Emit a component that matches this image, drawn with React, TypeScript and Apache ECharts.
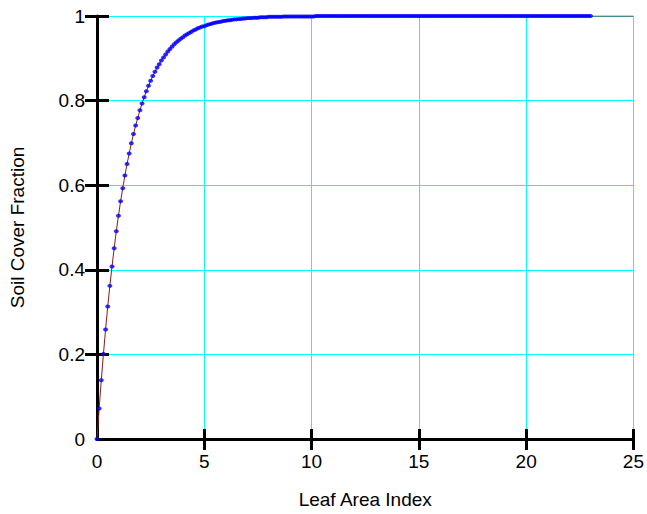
import React, { useEffect, useRef } from "react";
import * as echarts from "echarts";

// Leaf Area Index (x) sampled by the model, and the simulated soil cover fraction (y)
const LAI = [
  0, 0.1, 0.2, 0.3, 0.4, 0.5, 0.6, 0.7, 0.8, 0.9,
  1, 1.1, 1.2, 1.3, 1.4, 1.5, 1.6, 1.7, 1.8, 1.9,
  2, 2.1, 2.2, 2.3, 2.4, 2.5, 2.6, 2.7, 2.8, 2.9,
  3, 3.1, 3.2, 3.3, 3.4, 3.5, 3.6, 3.7, 3.8, 3.9,
  4, 4.1, 4.2, 4.3, 4.4, 4.5, 4.6, 4.7, 4.8, 4.9,
  5, 5.1, 5.2, 5.3, 5.4, 5.5, 5.6, 5.7, 5.8, 5.9,
  6, 6.1, 6.2, 6.3, 6.4, 6.5, 6.6, 6.7, 6.8, 6.9,
  7, 7.1, 7.2, 7.3, 7.4, 7.5, 7.6, 7.7, 7.8, 7.9,
  8, 8.1, 8.2, 8.3, 8.4, 8.5, 8.6, 8.7, 8.8, 8.9,
  9, 9.1, 9.2, 9.3, 9.4, 9.5, 9.6, 9.7, 9.8, 9.9,
  10, 10.1, 10.2, 10.3, 10.4, 10.5, 10.6, 10.7, 10.8, 10.9,
  11, 11.1, 11.2, 11.3, 11.4, 11.5, 11.6, 11.7, 11.8, 11.9,
  12, 12.1, 12.2, 12.3, 12.4, 12.5, 12.6, 12.7, 12.8, 12.9,
  13, 13.1, 13.2, 13.3, 13.4, 13.5, 13.6, 13.7, 13.8, 13.9,
  14, 14.1, 14.2, 14.3, 14.4, 14.5, 14.6, 14.7, 14.8, 14.9,
  15, 15.1, 15.2, 15.3, 15.4, 15.5, 15.6, 15.7, 15.8, 15.9,
  16, 16.1, 16.2, 16.3, 16.4, 16.5, 16.6, 16.7, 16.8, 16.9,
  17, 17.1, 17.2, 17.3, 17.4, 17.5, 17.6, 17.7, 17.8, 17.9,
  18, 18.1, 18.2, 18.3, 18.4, 18.5, 18.6, 18.7, 18.8, 18.9,
  19, 19.1, 19.2, 19.3, 19.4, 19.5, 19.6, 19.7, 19.8, 19.9,
  20, 20.1, 20.2, 20.3, 20.4, 20.5, 20.6, 20.7, 20.8, 20.9,
  21, 21.1, 21.2, 21.3, 21.4, 21.5, 21.6, 21.7, 21.8, 21.9,
  22, 22.1, 22.2, 22.3, 22.4, 22.5, 22.6, 22.7, 22.8, 22.9,
  23,
];

const COVER = [
  0, 0.072, 0.139, 0.201, 0.259, 0.313, 0.362, 0.408, 0.451, 0.491,
  0.528, 0.562, 0.593, 0.623, 0.65, 0.675, 0.699, 0.721, 0.741, 0.759,
  0.777, 0.793, 0.808, 0.822, 0.835, 0.847, 0.858, 0.868, 0.878, 0.886,
  0.895, 0.902, 0.909, 0.916, 0.922, 0.928, 0.933, 0.938, 0.942, 0.946,
  0.95, 0.954, 0.957, 0.96, 0.963, 0.966, 0.968, 0.971, 0.973, 0.975,
  0.976, 0.978, 0.98, 0.981, 0.983, 0.984, 0.985, 0.986, 0.987, 0.988,
  0.989, 0.99, 0.99, 0.991, 0.992, 0.992, 0.993, 0.993, 0.994, 0.994,
  0.995, 0.995, 0.995, 0.996, 0.996, 0.996, 0.997, 0.997, 0.997, 0.997,
  0.998, 0.998, 0.998, 0.998, 0.998, 0.998, 0.998, 0.999, 0.999, 0.999,
  0.999, 0.999, 0.999, 0.999, 0.999, 0.999, 0.999, 0.999, 0.999, 0.999,
  0.999, 0.999, 1, 1, 1, 1, 1, 1, 1, 1,
  1, 1, 1, 1, 1, 1, 1, 1, 1, 1,
  1, 1, 1, 1, 1, 1, 1, 1, 1, 1,
  1, 1, 1, 1, 1, 1, 1, 1, 1, 1,
  1, 1, 1, 1, 1, 1, 1, 1, 1, 1,
  1, 1, 1, 1, 1, 1, 1, 1, 1, 1,
  1, 1, 1, 1, 1, 1, 1, 1, 1, 1,
  1, 1, 1, 1, 1, 1, 1, 1, 1, 1,
  1, 1, 1, 1, 1, 1, 1, 1, 1, 1,
  1, 1, 1, 1, 1, 1, 1, 1, 1, 1,
  1, 1, 1, 1, 1, 1, 1, 1, 1, 1,
  1, 1, 1, 1, 1, 1, 1, 1, 1, 1,
  1, 1, 1, 1, 1, 1, 1, 1, 1, 1,
  1,
];

// the fitted curve continues to the right edge of the axis
const LINE_END_LAI = 25;
const LINE_END_COVER = 1;

const X_TICKS = [5, 10, 15, 20, 25];
const Y_TICKS = [0.2, 0.4, 0.6, 0.8, 1];

const FONT = "'Liberation Sans', Arial, sans-serif";
const GRID_COLOR = "#00ffff";

export default function App() {
  const ref = useRef<HTMLDivElement>(null);

  useEffect(() => {
    if (!ref.current) return;
    const chart = echarts.init(ref.current, undefined, { renderer: "svg" });

    const points = LAI.map((x, i) => [x, COVER[i]]);
    const linePoints = points.concat([[LINE_END_LAI, LINE_END_COVER]]);

    const axisLine = { show: true, onZero: false, lineStyle: { color: "#000", width: 3 } };
    const tickStyle = { color: "#000", width: 3 };
    const labelStyle = { color: "#000", fontSize: 19, fontFamily: FONT };
    const hiddenSplit = { show: false, lineStyle: { color: GRID_COLOR, width: 1 } };

    chart.setOption({
      animation: false,
      backgroundColor: "#fff",
      grid: { left: 95, right: 11, top: 16, bottom: 69 },
      xAxis: [
        {
          type: "value",
          min: 0,
          max: 25,
          interval: 5,
          position: "bottom",
          axisLine,
          axisTick: { show: true, inside: false, length: 11, lineStyle: tickStyle, customValues: X_TICKS },
          axisLabel: { ...labelStyle, margin: 13 },
          splitLine: { show: true, lineStyle: { color: GRID_COLOR, width: 1, opacity: 1 } },
          name: "Leaf Area Index",
          nameLocation: "middle",
          nameGap: 51,
          nameTextStyle: { color: "#000", fontSize: 19, fontFamily: FONT },
        },
        {
          type: "value",
          min: 0,
          max: 25,
          interval: 5,
          position: "bottom",
          axisLine: { show: false, onZero: false },
          axisTick: { show: true, inside: true, length: 10, lineStyle: tickStyle, customValues: X_TICKS },
          axisLabel: { show: false },
          splitLine: hiddenSplit,
          splitArea: { show: false },
        },
      ],
      yAxis: [
        {
          type: "value",
          min: 0,
          max: 1,
          interval: 0.2,
          position: "left",
          axisLine,
          axisTick: { show: true, inside: false, length: 12, lineStyle: tickStyle, customValues: Y_TICKS },
          axisLabel: { ...labelStyle, margin: 12 },
          splitLine: { show: true, lineStyle: { color: GRID_COLOR, width: 1, opacity: 1 } },
          name: "Soil Cover Fraction",
          nameLocation: "middle",
          nameGap: 70,
          nameTextStyle: { color: "#000", fontSize: 19, fontFamily: FONT },
        },
        {
          type: "value",
          min: 0,
          max: 1,
          interval: 0.2,
          position: "left",
          axisLine: { show: false, onZero: false },
          axisTick: { show: true, inside: true, length: 12, lineStyle: tickStyle, customValues: Y_TICKS },
          axisLabel: { show: false },
          splitLine: hiddenSplit,
          splitArea: { show: false },
        },
      ],
      series: [
        {
          type: "line",
          data: linePoints,
          xAxisIndex: 0,
          yAxisIndex: 0,
          showSymbol: false,
          symbol: "none",
          lineStyle: { color: "#8b1a1a", width: 1 },
          z: 3,
        },
        {
          type: "scatter",
          data: points,
          xAxisIndex: 0,
          yAxisIndex: 0,
          symbol: "circle",
          symbolSize: [5, 4],
          itemStyle: { color: "#0000ff" },
          z: 4,
        },
      ],
    });

    return () => chart.dispose();
  }, []);

  return (
    <div
      ref={ref}
      style={{ position: "fixed", left: 0, top: 0, width: 647, height: 514, background: "#fff" }}
    />
  );
}
